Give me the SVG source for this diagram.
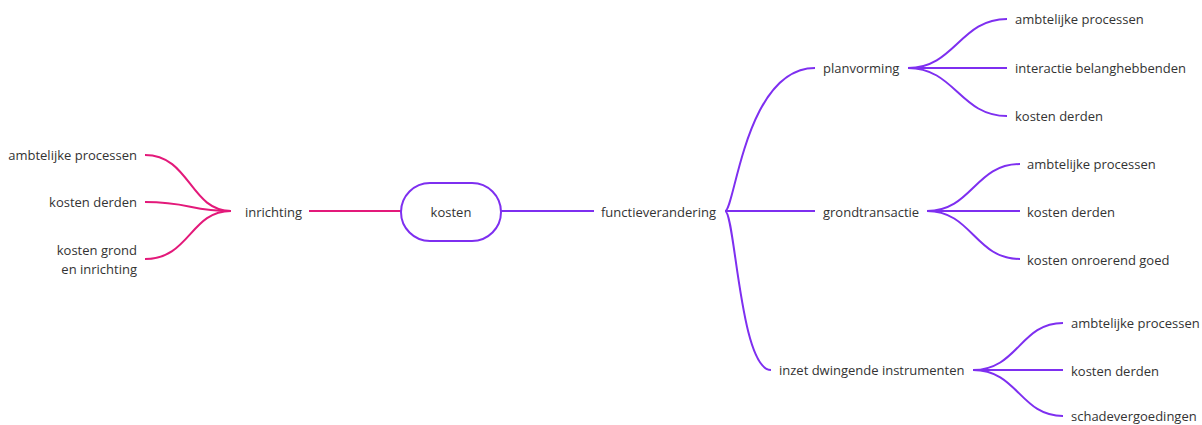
<svg xmlns="http://www.w3.org/2000/svg" width="1202" height="425" viewBox="0 0 1202 425">
<style>
text{font-family:"Open Sans","Noto Sans",sans-serif;font-size:13px;fill:#333;dominant-baseline:central}
.p{fill:none;stroke:#e3197a;stroke-width:2}
.v{fill:none;stroke:#7e2ff0;stroke-width:2}
.r{text-anchor:end}
.m{text-anchor:middle}
</style>
<rect width="1202" height="425" fill="#fff"/>
<g id="connectors">
<path class="p" d="M309,211 H401"/>
<path class="v" d="M501,211 H594"/>
<path class="p" d="M145,155 C190,155 190,211 231,211"/>
<path class="p" d="M145,202 C190,202 190,211 231,211"/>
<path class="p" d="M145,259 C190,259 190,211 231,211"/>
<path class="v" d="M725,211 C735,211 745,68 815,68"/>
<path class="v" d="M725,211 H815"/>
<path class="v" d="M725,211 C735,211 740,370 771,370"/>
<path class="v" d="M908,68 C955,68 960,19 1007,19"/>
<path class="v" d="M908,68 H1007"/>
<path class="v" d="M908,68 C955,68 960,116 1007,116"/>
<path class="v" d="M927,211 C972,211 975,164 1020,164"/>
<path class="v" d="M927,211 H1020"/>
<path class="v" d="M927,211 C972,211 975,259 1020,259"/>
<path class="v" d="M973,370 C1018,370 1020,323 1063,323"/>
<path class="v" d="M973,370 H1063"/>
<path class="v" d="M973,370 C1018,370 1020,416 1063,416"/>
</g>
<g id="root"><rect x="401" y="183" width="100" height="58" rx="29" fill="#fff" stroke="#7e2ff0" stroke-width="2"/><text class="m" x="451" y="212">kosten</text></g>
<g id="inrichting"><text x="245" y="212">inrichting</text></g>
<g id="l1"><text class="r" x="137" y="155">ambtelijke processen</text></g>
<g id="l2"><text class="r" x="137" y="202">kosten derden</text></g>
<g id="l3"><text class="r" x="137" y="250">kosten grond</text><text class="r" x="137" y="269">en inrichting</text></g>
<g id="functieverandering"><text x="601" y="212">functieverandering</text></g>
<g id="planvorming"><text x="823" y="68">planvorming</text></g>
<g id="pv1"><text x="1015" y="19">ambtelijke processen</text></g>
<g id="pv2"><text x="1015" y="68">interactie belanghebbenden</text></g>
<g id="pv3"><text x="1015" y="116">kosten derden</text></g>
<g id="grondtransactie"><text x="823" y="212">grondtransactie</text></g>
<g id="gt1"><text x="1027" y="164">ambtelijke processen</text></g>
<g id="gt2"><text x="1027" y="212">kosten derden</text></g>
<g id="gt3"><text x="1027" y="260">kosten onroerend goed</text></g>
<g id="inzet"><text x="779" y="370">inzet dwingende instrumenten</text></g>
<g id="iz1"><text x="1071" y="323">ambtelijke processen</text></g>
<g id="iz2"><text x="1071" y="371">kosten derden</text></g>
<g id="iz3"><text x="1071" y="416">schadevergoedingen</text></g>
</svg>
